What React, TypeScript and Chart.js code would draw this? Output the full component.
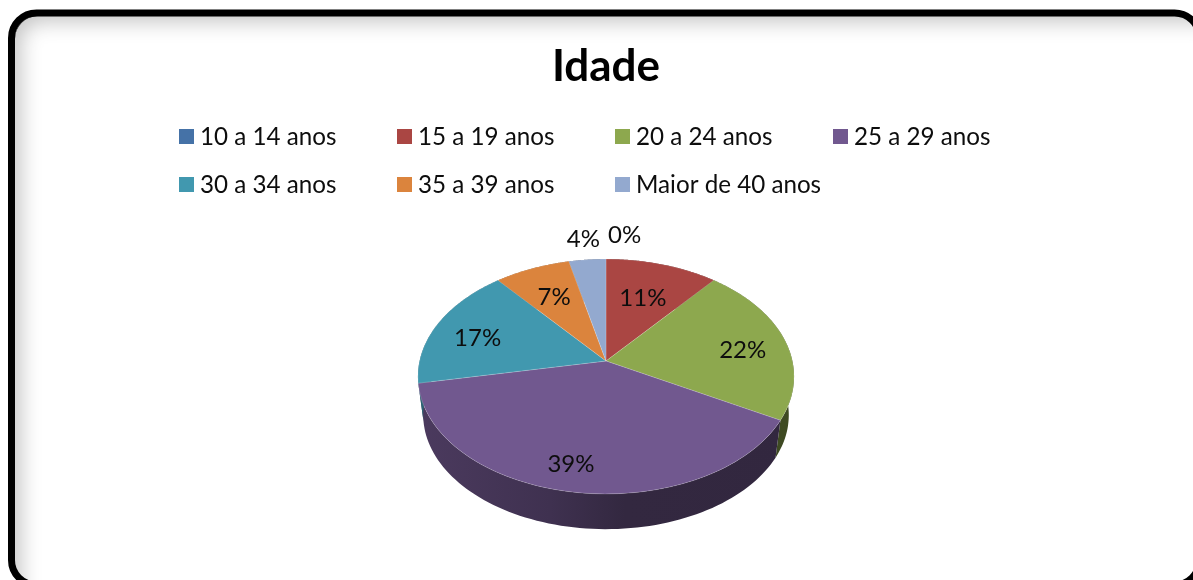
import React, { useEffect, useRef } from "react";
import { Chart, registerables } from "chart.js";

Chart.register(...registerables);

const titleText = "Idade";
const categories = ["10 a 14 anos", "15 a 19 anos", "20 a 24 anos", "25 a 29 anos", "30 a 34 anos", "35 a 39 anos", "Maior de 40 anos"];
const shares = [0, 11, 22, 39, 17, 7.4, 3.6];
const sliceColors = ["#4572A7", "#AA4643", "#8DA84E", "#71588F", "#4198AF", "#DB843D", "#93A9CF"];

// Label placement: fraction of the radius, and an angular nudge in degrees
const labelRadius = [1.29, 0.63, 0.75, 0.81, 0.74, 0.68, 1.25];
const labelNudge = [5.2, 0, 3, 3, -3, 0, 0];

const FONT = "Lato, Carlito, sans-serif";
const TILT = 0.619; // vertical squash of the disc
const PERSP = 0.132; // perspective strength
const WALL_SHRINK = 0.972;
const WALL_DROP = 0.209; // in radii

const project = (a: any, angle: number, t = 1) => {
  const ux = Math.cos(angle) * t;
  const uy = Math.sin(angle) * t;
  const d = 1 - PERSP * uy;
  return { x: a.x + (a.outerRadius * ux) / d, y: a.y + (a.outerRadius * TILT * uy) / d };
};

const lower = (a: any, p: { x: number; y: number }) => ({
  x: a.x + (p.x - a.x) * WALL_SHRINK,
  y: a.y + (p.y - a.y) * WALL_SHRINK + a.outerRadius * WALL_DROP,
});

const shade = (hex: string, f: number) => {
  const n = parseInt(hex.slice(1), 16);
  return `rgb(${Math.round(((n >> 16) & 255) * f)},${Math.round(((n >> 8) & 255) * f)},${Math.round((n & 255) * f)})`;
};

const framePlugin = {
  id: "frame",
  beforeDraw(chart: any) {
    const ctx = chart.ctx as CanvasRenderingContext2D;
    const { width, height } = chart;
    ctx.save();
    ctx.fillStyle = "#ffffff";
    ctx.fillRect(0, 0, width, height);
    const rr = (x: number, y: number, w: number, h: number, r: number) => {
      ctx.beginPath();
      ctx.roundRect(x, y, w, h, r);
    };
    // soft inner shadow along the top and left edges only
    ctx.save();
    rr(15, 16, 1181, 566, 22);
    ctx.clip();
    ctx.shadowColor = "rgba(0,0,0,0.42)";
    ctx.shadowBlur = 24;
    ctx.lineWidth = 14;
    ctx.strokeStyle = "#000";
    rr(8, 9, 1230, 620, 30);
    ctx.stroke();
    ctx.restore();
    ctx.lineWidth = 7;
    ctx.strokeStyle = "#000";
    rr(11.5, 13, 1188, 572, 25);
    ctx.stroke();
    ctx.restore();
  },
};

const pie3dPlugin = {
  id: "pie3d",
  beforeDatasetDraw(chart: any) {
    const ctx = chart.ctx as CanvasRenderingContext2D;
    const arcs = chart.getDatasetMeta(0).data as any[];
    const colors = chart.data.datasets[0].backgroundColor as string[];
    ctx.save();
    const a0 = arcs[0];
    // side wall
    arcs.forEach((a, i) => {
      if (a.endAngle - a.startAngle <= 0) return;
      const steps = 80;
      const top: any[] = [];
      for (let s = 0; s <= steps; s++) top.push(project(a, a.startAngle + ((a.endAngle - a.startAngle) * s) / steps));
      ctx.beginPath();
      top.forEach((p, k) => (k ? ctx.lineTo(p.x, p.y) : ctx.moveTo(p.x, p.y)));
      top.slice().reverse().forEach((p) => {
        const q = lower(a, p);
        ctx.lineTo(q.x, q.y);
      });
      ctx.closePath();
      const g = ctx.createLinearGradient(a0.x - a0.outerRadius, 0, a0.x + a0.outerRadius, 0);
      g.addColorStop(0, shade(colors[i], 0.66));
      g.addColorStop(0.35, shade(colors[i], 0.56));
      g.addColorStop(0.55, shade(colors[i], 0.45));
      g.addColorStop(1, shade(colors[i], 0.44));
      ctx.fillStyle = g;
      ctx.fill();
    });
    // top face
    arcs.forEach((a, i) => {
      if (a.endAngle - a.startAngle <= 0) return;
      const steps = 80;
      ctx.beginPath();
      ctx.moveTo(a.x, a.y);
      for (let s = 0; s <= steps; s++) {
        const p = project(a, a.startAngle + ((a.endAngle - a.startAngle) * s) / steps);
        ctx.lineTo(p.x, p.y);
      }
      ctx.closePath();
      ctx.fillStyle = colors[i];
      ctx.fill();
      ctx.lineWidth = 0.8;
      ctx.strokeStyle = "rgba(255,255,255,0.22)";
      ctx.stroke();
    });
    ctx.restore();
    return false;
  },
  afterDatasetsDraw(chart: any) {
    const ctx = chart.ctx as CanvasRenderingContext2D;
    const arcs = chart.getDatasetMeta(0).data as any[];
    const values = chart.data.datasets[0].data as number[];
    const total = values.reduce((s, v) => s + v, 0);
    ctx.save();
    ctx.font = `24px ${FONT}`;
    ctx.fillStyle = "#0d0d0d";
    ctx.textAlign = "center";
    ctx.textBaseline = "middle";
    arcs.forEach((a, i) => {
      const mid = (a.startAngle + a.endAngle) / 2 + (labelNudge[i] * Math.PI) / 180;
      const p = project(a, mid, labelRadius[i]);
      ctx.fillText(`${Math.round((values[i] / total) * 100)}%`, p.x, p.y + 1);
    });
    ctx.restore();
  },
};

const legendPlugin = {
  id: "columnLegend",
  afterDraw(chart: any) {
    const ctx = chart.ctx as CanvasRenderingContext2D;
    const labels = chart.data.labels as string[];
    const colors = chart.data.datasets[0].backgroundColor as string[];
    ctx.save();
    ctx.font = `24.2px ${FONT}`;
    ctx.textBaseline = "middle";
    labels.forEach((l, i) => {
      const col = i % 4;
      const row = Math.floor(i / 4);
      const x = 179 + col * 218;
      const y = 129 + row * 48;
      ctx.fillStyle = colors[i];
      ctx.fillRect(x, y, 15, 15);
      ctx.fillStyle = "#0d0d0d";
      ctx.fillText(l, x + 21, y + 8.5);
    });
    ctx.restore();
  },
};

export default function App() {
  const ref = useRef<HTMLCanvasElement>(null);
  useEffect(() => {
    const chart = new Chart(ref.current!, {
      type: "pie",
      data: {
        labels: categories,
        datasets: [{ data: shares, backgroundColor: sliceColors, borderWidth: 0 }],
      },
      options: {
        animation: false,
        responsive: false,
        layout: { padding: { left: 19, right: 0, top: 0, bottom: 32.6 } },
        plugins: {
          legend: { display: false },
          tooltip: { enabled: false },
          title: {
            display: true,
            text: titleText,
            color: "#000000",
            font: { family: FONT, size: 44, weight: "bold", lineHeight: 1.2 },
            padding: { top: 40, bottom: 81.8 },
          },
        },
      },
      plugins: [framePlugin, pie3dPlugin, legendPlugin],
    } as any);
    return () => chart.destroy();
  }, []);
  return (
    <div style={{ position: "fixed", left: 0, top: 0, width: 1193, height: 580, overflow: "hidden", background: "#fff" }}>
      <canvas ref={ref} width={1193} height={580} style={{ display: "block" }} />
    </div>
  );
}
